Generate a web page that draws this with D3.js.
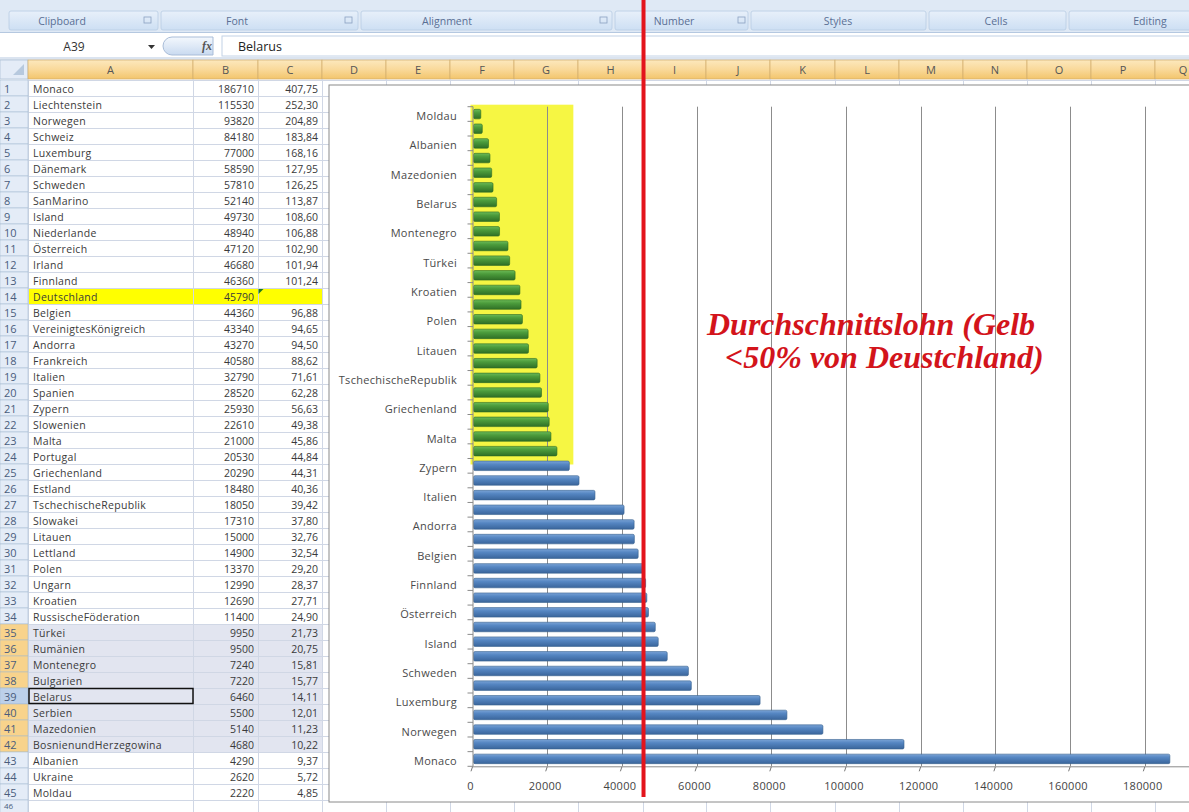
<!DOCTYPE html>
<html><head><meta charset="utf-8">
<script src="https://cdnjs.cloudflare.com/ajax/libs/d3/7.8.5/d3.min.js"></script>
<style>
html,body{margin:0;padding:0;background:#fff;overflow:hidden}
svg{display:block}
</style></head>
<body><svg id="c" width="1189" height="812"></svg>
<script>
// ---------- data ----------
const countries = ["Monaco","Liechtenstein","Norwegen","Schweiz","Luxemburg","Dänemark","Schweden","SanMarino","Island","Niederlande","Österreich","Irland","Finnland","Deutschland","Belgien","VereinigtesKönigreich","Andorra","Frankreich","Italien","Spanien","Zypern","Slowenien","Malta","Portugal","Griechenland","Estland","TschechischeRepublik","Slowakei","Litauen","Lettland","Polen","Ungarn","Kroatien","RussischeFöderation","Türkei","Rumänien","Montenegro","Bulgarien","Belarus","Serbien","Mazedonien","BosnienundHerzegowina","Albanien","Ukraine","Moldau"];
const salaries = [186710,115530,93820,84180,77000,58590,57810,52140,49730,48940,47120,46680,46360,45790,44360,43340,43270,40580,32790,28520,25930,22610,21000,20530,20290,18480,18050,17310,15000,14900,13370,12990,12690,11400,9950,9500,7240,7220,6460,5500,5140,4680,4290,2620,2220];
const percents = ["407,75","252,30","204,89","183,84","168,16","127,95","126,25","113,87","108,60","106,88","102,90","101,94","101,24","","96,88","94,65","94,50","88,62","71,61","62,28","56,63","49,38","45,86","44,84","44,31","40,36","39,42","37,80","32,76","32,54","29,20","28,37","27,71","24,90","21,73","20,75","15,81","15,77","14,11","12,01","11,23","10,22","9,37","5,72","4,85"];
const xTicks = [0,20000,40000,60000,80000,100000,120000,140000,160000,180000];
const columnLetters = ["A","B","C","D","E","F","G","H","I","J","K","L","M","N","O","P","Q"];
const ribbonGroups = ["Clipboard","Font","Alignment","Number","Styles","Cells","Editing"];
const referenceCountry = "Deutschland";
const nameBoxText = "A39";
const formulaText = "Belarus";
const annotationLines = ["Durchschnittslohn (Gelb", "<50% von Deustchland)"];

// ---------- layout ----------
const svg = d3.select("#c");
const W = 1189, H = 812;
const font = "'Open Sans', 'Noto Sans', sans-serif";
const colEdges = [28,193,258,322,386,450,514,578,643,706,770,835,899,963,1027,1091,1155,1219];
const rowTop0 = 81, rowH = 16;
const rowTop = i => rowTop0 + (i - 1) * rowH;

const defs = svg.append("defs");
function vgrad(id, stops){
  const g = defs.append("linearGradient").attr("id", id).attr("x1",0).attr("x2",0).attr("y1",0).attr("y2",1);
  stops.forEach(s => g.append("stop").attr("offset", s[0]).attr("stop-color", s[1]));
}
vgrad("ribbon", [[0,"#e8f0fa"],[1,"#cddff3"]]);
vgrad("colhdr", [[0,"#fce8bd"],[0.5,"#f9d99a"],[1,"#f3c56c"]]);
vgrad("fxbtn", [[0,"#f4f8fd"],[1,"#c9daf0"]]);
vgrad("blueBar", [[0,"#7aa3d6"],[0.35,"#5586c2"],[1,"#3a659b"]]);
vgrad("greenBar", [[0,"#6cba57"],[0.35,"#4c9c3c"],[1,"#2f6f26"]]);

svg.append("rect").attr("width", W).attr("height", H).attr("fill", "#fff");

// ---------- ribbon ----------
svg.append("rect").attr("x",0).attr("y",0).attr("width",W).attr("height",33).attr("fill","#dfe9f5");
const groupEdges = [8,160,360,614,750,928,1068,1200];
ribbonGroups.forEach((g,i)=>{
  svg.append("rect").attr("x", groupEdges[i]+1).attr("y", 11).attr("width", groupEdges[i+1]-groupEdges[i]-3).attr("height", 19)
    .attr("fill","url(#ribbon)").attr("stroke","#b7cbe3").attr("stroke-width",0.8).attr("rx",2);
});
const groupCenters = [62,237,447,674,838,996,1150];
ribbonGroups.forEach((g,i)=>{
  svg.append("text").attr("x", groupCenters[i]).attr("y", 25).attr("text-anchor","middle")
    .attr("font-family", font).attr("font-size", 10.5).attr("fill","#5a6f94").text(g);
});
[147,348,603,741].forEach(x=>{
  svg.append("rect").attr("x",x-3).attr("y",17).attr("width",7).attr("height",6).attr("fill","none").attr("stroke","#8aa0c0").attr("stroke-width",0.8);
});
// formula bar
svg.append("rect").attr("x",0).attr("y",32).attr("width",W).attr("height",27).attr("fill","#fff");
svg.append("line").attr("x1",0).attr("x2",W).attr("y1",32.5).attr("y2",32.5).attr("stroke","#b5c8e0");
svg.append("text").attr("x",74).attr("y",51).attr("text-anchor","middle").attr("font-family",font).attr("font-size",12).attr("fill","#333").text(nameBoxText);
svg.append("path").attr("d","M148,45 L155,45 L151.5,49 Z").attr("fill","#333");
svg.append("path").attr("d","M172,37 L213,37 L213,55 L172,55 A9,9 0 0 1 172,37 Z").attr("fill","url(#fxbtn)").attr("stroke","#a9bdd8");
svg.append("text").attr("x",207).attr("y",50).attr("text-anchor","middle").attr("font-family","'Liberation Serif',serif").attr("font-style","italic").attr("font-weight","bold").attr("font-size",12).attr("fill","#555").text("fx");
svg.append("rect").attr("x",222).attr("y",36).attr("width",W).attr("height",20).attr("fill","#fff").attr("stroke","#c2d2e6");
svg.append("text").attr("x",238).attr("y",51).attr("font-family",font).attr("font-size",12.5).attr("fill","#222").text(formulaText);
svg.append("rect").attr("x",0).attr("y",57).attr("width",W).attr("height",3).attr("fill","#dbe4f0");

// column headers
const hdrY = 60, hdrH = 19;
svg.append("rect").attr("x",0).attr("y",hdrY).attr("width",28).attr("height",hdrH).attr("fill","#e4ecf7").attr("stroke","#9eb6ce").attr("stroke-width",0.6);
svg.append("path").attr("d",`M24,${hdrY+4} L24,${hdrY+15} L13,${hdrY+15} Z`).attr("fill","#b7c9de");
columnLetters.forEach((c,i)=>{
  const x0 = colEdges[i], x1 = colEdges[i+1];
  svg.append("rect").attr("x",x0).attr("y",hdrY).attr("width",x1-x0).attr("height",hdrH).attr("fill","url(#colhdr)").attr("stroke","#d1ad6c").attr("stroke-width",0.7);
  const cx = Math.min((x0+x1)/2, W-6);
  svg.append("text").attr("x",cx).attr("y",hdrY+14).attr("text-anchor","middle").attr("font-family",font).attr("font-size",11).attr("fill","#555").text(c);
});

// ---------- sheet cells ----------
const nRows = 46;
const gridColor = "#d0d7e5";
svg.append("rect").attr("x",28).attr("y",rowTop(35)).attr("width",322-28).attr("height",8*rowH).attr("fill","#e2e5f0");
const refIdx = countries.indexOf(referenceCountry);
svg.append("rect").attr("x",28).attr("y",rowTop(refIdx+1)).attr("width",322-28).attr("height",rowH).attr("fill","#ffff00");
for(let r=1;r<=nRows+1;r++){
  svg.append("line").attr("x1",28).attr("x2",W).attr("y1",rowTop(r)-0.5).attr("y2",rowTop(r)-0.5).attr("stroke",gridColor).attr("stroke-width",1);
}
colEdges.forEach(x=>{
  svg.append("line").attr("x1",x+0.5).attr("x2",x+0.5).attr("y1",hdrY+hdrH).attr("y2",H).attr("stroke",gridColor).attr("stroke-width",1);
});
for(let r=1;r<=nRows;r++){
  const sel = r>=35 && r<=42;
  const fill = r===39 ? "#bcd0ea" : (sel ? "#f8d38c" : "#e4ecf7");
  svg.append("rect").attr("x",0).attr("y",rowTop(r)-1).attr("width",28).attr("height",rowH).attr("fill",fill).attr("stroke","#9eb6ce").attr("stroke-width",0.5);
  const last = r===nRows;
  svg.append("text").attr("x",4).attr("y",last ? 809 : rowTop(r)+11.5).attr("font-family",font).attr("font-size",last?8:11).attr("fill","#4a5d7c").text(r);
}
countries.forEach((c,i)=>{
  const y = rowTop(i+1)+11.5;
  svg.append("text").attr("x",33).attr("y",y).attr("font-family",font).attr("font-size",10.5).attr("letter-spacing",0.3).attr("fill","#3a3a3a").text(c);
  svg.append("text").attr("x",254).attr("y",y).attr("text-anchor","end").attr("font-family",font).attr("font-size",10.5).attr("fill","#3a3a3a").text(salaries[i]);
  svg.append("text").attr("x",318).attr("y",y).attr("text-anchor","end").attr("font-family",font).attr("font-size",10.5).attr("fill","#3a3a3a").text(percents[i]);
});
svg.append("rect").attr("x",29).attr("y",rowTop(39)-0.5).attr("width",193-29).attr("height",rowH-1).attr("fill","none").attr("stroke","#111").attr("stroke-width",1.5);
svg.append("path").attr("d",`M258.5,${rowTop(refIdx+1)} l5,0 l-5,5 Z`).attr("fill","#1d7a1d");

// ---------- chart ----------
const chartX = 329, chartY = 85, chartB = 802;
svg.append("rect").attr("x",chartX).attr("y",chartY).attr("width",W-chartX+10).attr("height",chartB-chartY).attr("fill","#fff").attr("stroke","#8a8a8a").attr("stroke-width",1);

const x = d3.scaleLinear().domain([0,200000]).range([472.5,1219.5]);
const y = d3.scaleBand().domain(countries.slice().reverse()).range([106.7,766.3]).paddingInner(0.35).paddingOuter(0.18);
const yStep = y.step();
const plotTop = 106.7, plotBot = 766.3;
const half = salaries[refIdx]/2;
const lowOnes = countries.filter((c,i)=>salaries[i] < half);

const lowBot = d3.max(lowOnes, c=>y(c)+y.bandwidth());
svg.append("rect").attr("x",x(0)-2).attr("y",plotTop-2).attr("width",x(27000)-x(0)+2)
  .attr("height",(lowBot+ (yStep-y.bandwidth())/2 + 6) - (plotTop-2)).attr("fill","#f6f643");

svg.append("g").selectAll("line").data(xTicks.slice(1)).join("line")
  .attr("x1",d=>Math.round(x(d))+0.5).attr("x2",d=>Math.round(x(d))+0.5).attr("y1",plotTop).attr("y2",plotBot)
  .attr("stroke","#8c8c8c").attr("stroke-width",1);

svg.append("g").selectAll("rect").data(countries).join("rect")
  .attr("x",x(0)+1).attr("y",d=>y(d)).attr("height",y.bandwidth())
  .attr("width",(d,i)=>x(salaries[i])-x(0)-1)
  .attr("rx",1.5)
  .attr("fill",(d,i)=>salaries[i] < half ? "url(#greenBar)" : "url(#blueBar)")
  .attr("stroke",(d,i)=>salaries[i] < half ? "#2c6a24" : "#38618f").attr("stroke-width",0.6);

const yAxisG = svg.append("g").attr("transform",`translate(${x(0)},0)`);
yAxisG.append("line").attr("x1",0.5).attr("x2",0.5).attr("y1",plotTop).attr("y2",plotBot).attr("stroke","#8a8a8a");
const boundaries = d3.range(countries.length+1).map(i=>plotTop + i*(plotBot-plotTop)/countries.length);
yAxisG.selectAll("line.tk").data(boundaries).join("line").attr("class","tk")
  .attr("x1",-5).attr("x2",0.5).attr("y1",d=>d).attr("y2",d=>d).attr("stroke","#8a8a8a");
const labeled = countries.filter((c,i)=>i%2===0);
svg.append("g").selectAll("text").data(labeled).join("text")
  .attr("x",457).attr("y",d=>y(d)+y.bandwidth()/2+6).attr("text-anchor","end")
  .attr("font-family",font).attr("font-size",11).attr("letter-spacing",0.3).attr("fill","#4a4a4a").text(d=>d);

const xAxisG = svg.append("g").attr("transform",`translate(0,${plotBot})`);
xAxisG.append("line").attr("x1",x(0)).attr("x2",W).attr("y1",0.5).attr("y2",0.5).attr("stroke","#8a8a8a");
xAxisG.selectAll("line.tk").data(xTicks).join("line").attr("class","tk")
  .attr("x1",d=>x(d)).attr("x2",d=>x(d)-1.5).attr("y1",0.5).attr("y2",5).attr("stroke","#777");
xAxisG.selectAll("text").data(xTicks).join("text")
  .attr("x",d=>x(d)-2).attr("y",24).attr("text-anchor","middle")
  .attr("font-family",font).attr("font-size",11).attr("letter-spacing",0.3).attr("fill","#444").text(d=>d);

const tx = svg.append("text").attr("font-family","'Liberation Serif','Times New Roman',serif").attr("font-style","italic").attr("font-weight","bold")
  .attr("font-size",32).attr("fill","#d3141b");
tx.append("tspan").attr("x",707).attr("y",335).text(annotationLines[0]);
tx.append("tspan").attr("x",725).attr("y",368).text(annotationLines[1]);

svg.append("line").attr("x1",x(salaries[refIdx])).attr("x2",x(salaries[refIdx])).attr("y1",0).attr("y2",797)
  .attr("stroke","#e3141c").attr("stroke-width",4);
</script>
</body></html>
